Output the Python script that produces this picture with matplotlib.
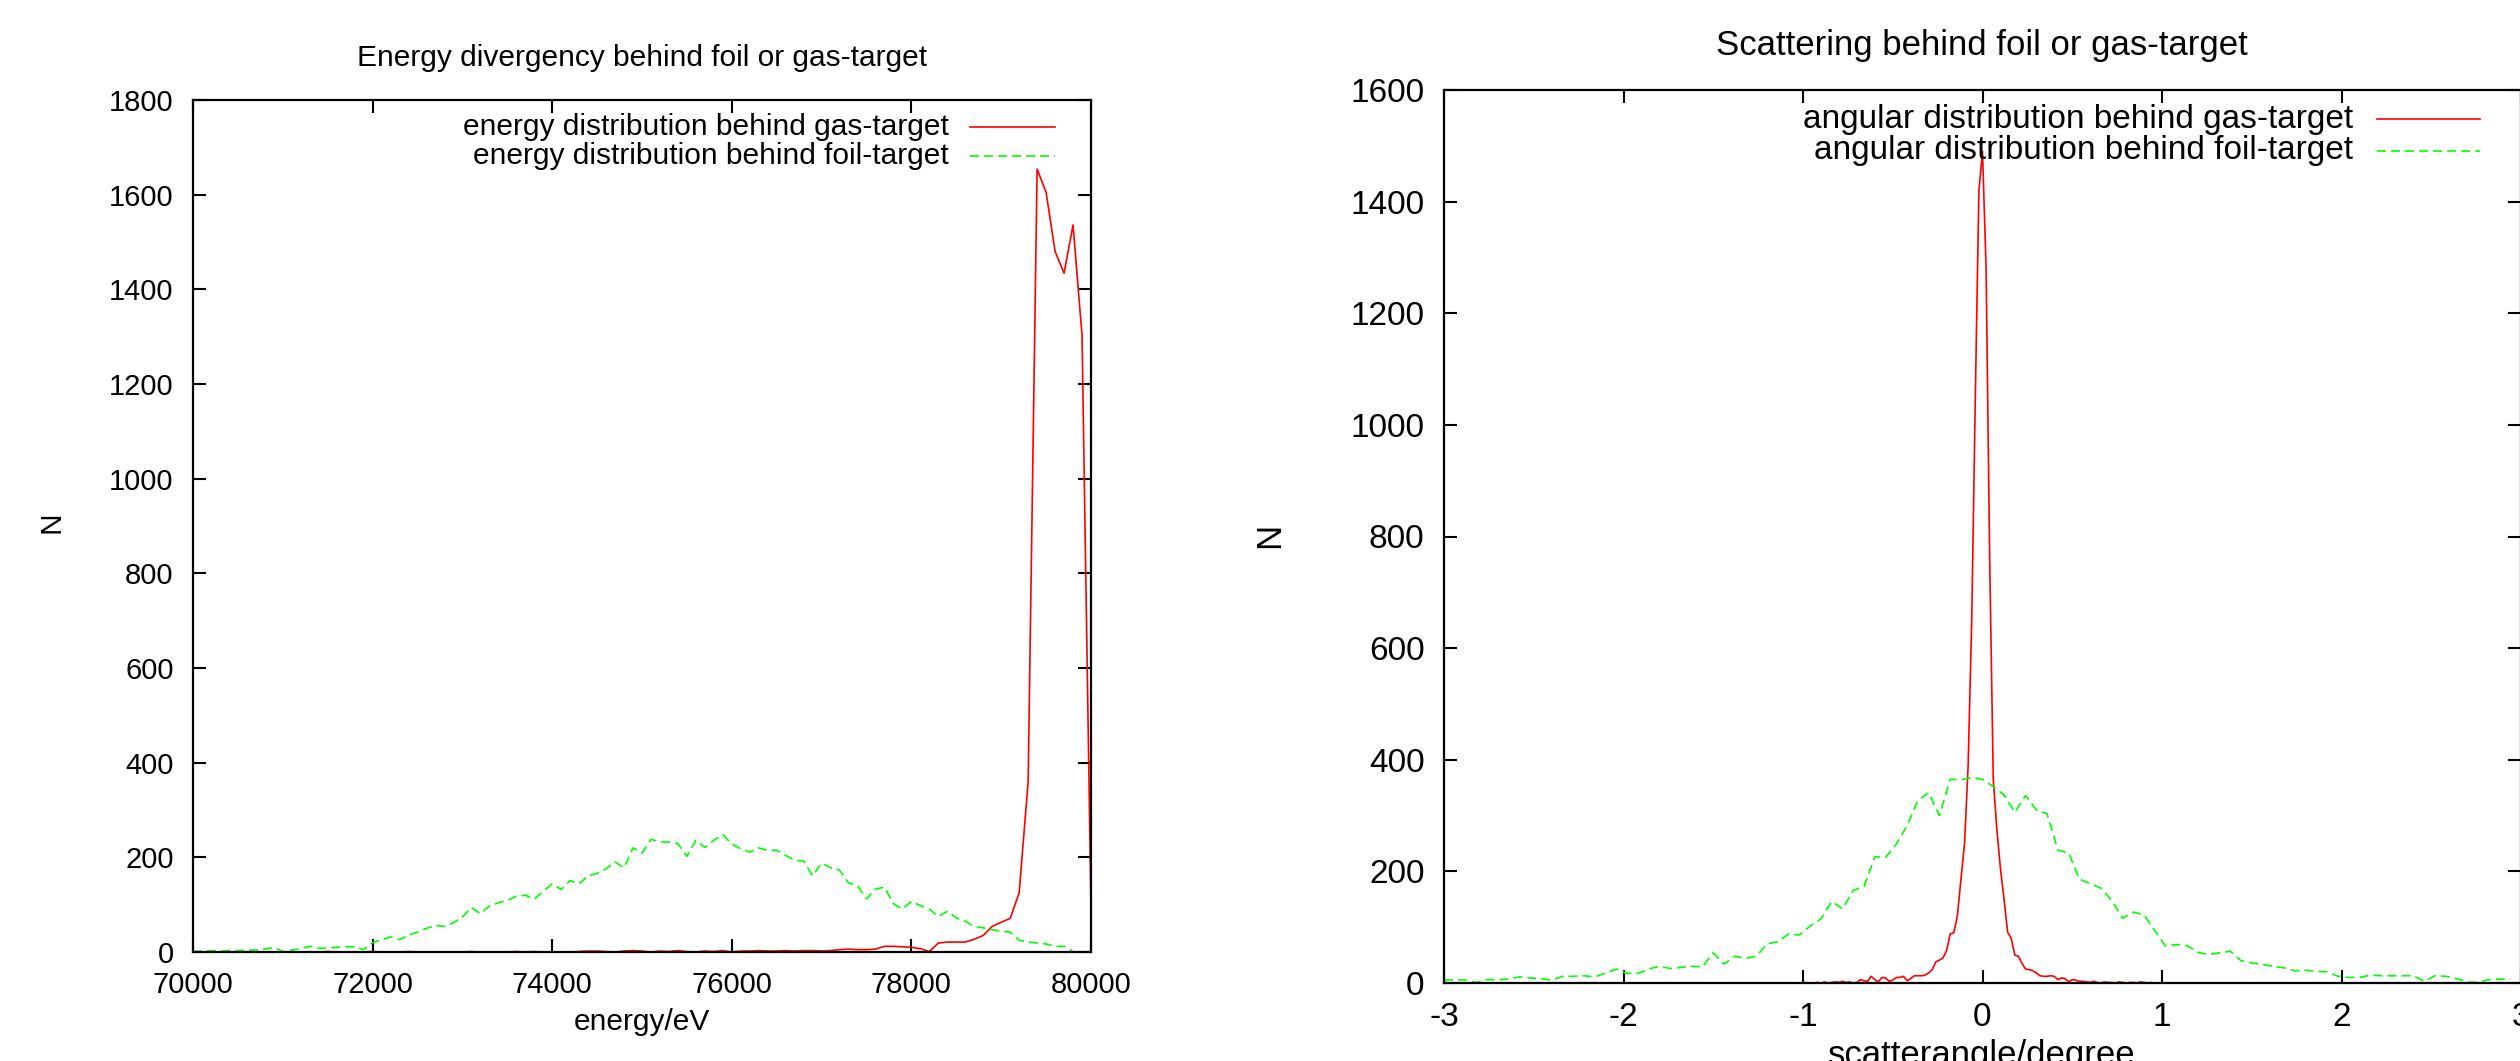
import numpy as np
import matplotlib
matplotlib.use("Agg")
import matplotlib.pyplot as plt

plt.rcParams['font.family'] = ['Liberation Sans', 'DejaVu Sans']
plt.rcParams['lines.scale_dashes'] = False
plt.rcParams['axes.unicode_minus'] = False

# energy spectrum, 100 eV bins
energy_gas = np.arange(70000, 80001, 100)
n_energy_gas = [
    0, 0, 0, 0, 0, 0, 0, 0, 0, 0,
    0, 0, 0, 0, 0, 1, 0, 0, 0, 0,
    1, 0, 0, 0, 1, 0, 0, 0, 0, 0,
    0, 1, 0, 0, 0, 0, 1, 0, 1, 0,
    0, 0, 0, 1, 2, 2, 1, 0, 2, 3,
    2, 0, 2, 1, 3, 1, 0, 2, 1, 3,
    0, 2, 2, 3, 2, 2, 3, 2, 3, 3,
    2, 3, 5, 6, 5, 5, 6, 12, 12, 11,
    10, 7, 1, 19, 21, 21, 21, 27, 35, 54,
    63, 71, 125, 360, 1654, 1605, 1480, 1434, 1536, 1303,
    93,
]
energy_foil = np.arange(70000, 79801, 100)
n_energy_foil = [
    1, 2, 3, 2, 3, 3, 4, 4, 6, 10,
    1, 4, 7, 12, 8, 8, 10, 11, 11, 5,
    20, 26, 32, 26, 36, 42, 50, 56, 54, 62,
    74, 94, 81, 97, 104, 109, 118, 120, 112, 128,
    144, 132, 151, 144, 161, 166, 176, 190, 178, 220,
    209, 238, 233, 232, 229, 202, 236, 221, 236, 248,
    228, 218, 211, 220, 215, 215, 204, 194, 192, 161,
    188, 178, 173, 146, 140, 112, 133, 137, 102, 91,
    107, 98, 91, 75, 86, 72, 65, 54, 51, 47,
    44, 42, 25, 21, 19, 17, 12, 12, 1,
]

# angular distribution
angle_gas = np.round(np.arange(-1.0, 1.001, 0.02), 2)
n_angle_gas = [
    0, 1, 0, 0, 1, 0, 2, 0, 1, 2,
    1, 3, 1, 2, 0, 1, 6, 4, 3, 12,
    6, 2, 10, 9, 3, 5, 10, 10, 12, 4,
    8, 13, 13, 13, 14, 18, 24, 38, 41, 45,
    58, 88, 90, 120, 186, 250, 390, 650, 1050, 1420,
    1490,
    1280, 760, 365, 275, 205, 150, 91, 80, 50, 48,
    35, 25, 24, 22, 18, 13, 12, 12, 13, 12,
    6, 9, 8, 2, 6, 5, 3, 3, 2, 1,
    3, 1, 0, 2, 1, 1, 0, 2, 1, 0,
    1, 1, 0, 2, 1, 0, 1, 0, 0, 0,
]
angle_foil = np.round(np.arange(-3.0, 2.95, 0.06), 2)
n_angle_foil = [
    5, 6, 5, 1, 6, 6, 7, 11, 9, 8,
    5, 12, 12, 13, 11, 18, 25, 17, 17, 25,
    30, 26, 28, 30, 29, 54, 34, 48, 44, 48,
    70, 74, 88, 86, 102, 115, 146, 133, 166, 173,
    226, 225, 249, 282, 327, 341, 300, 365, 364, 368,
    365, 352, 337, 306, 336, 310, 303, 238, 233, 186,
    178, 170, 148, 116, 127, 122, 94, 66, 69, 67,
    55, 51, 54, 57, 40, 36, 33, 30, 27, 22,
    23, 21, 20, 12, 10, 10, 14, 13, 13, 13,
    13, 3, 13, 12, 8, 2, 1, 6, 7, 7,
]

W, H = 2520, 1061
fig = plt.figure(figsize=(W / 100, H / 100), dpi=100)

RED = '#ff0000'
GREEN = '#00ff00'


def frame(ax, fs):
    for s in ax.spines.values():
        s.set_linewidth(1.6)
    ax.tick_params(direction='in', length=9.4, width=1.5, top=True, right=True,
                   labelsize=fs, pad=14)


def legend(ax, labels, tx, y1, y2, x0, x1, fs):
    for lab, y, c, ls in [(labels[0], y1, RED, '-'), (labels[1], y2, GREEN, '--')]:
        ax.text(tx, y, lab, transform=ax.transAxes, ha='right', va='center', fontsize=fs)
        ln, = ax.plot([x0, x1], [y, y], transform=ax.transAxes, color=c, lw=1.2, ls=ls,
                      clip_on=False)
        if ls == '--':
            ln.set_dashes((6.5, 3.6))


# left panel
ax1 = fig.add_axes([193 / W, 1 - 952 / H, 898 / W, 852 / H])
ax1.plot(energy_gas, n_energy_gas, color=RED, lw=1.2)
g, = ax1.plot(energy_foil, n_energy_foil, color=GREEN, lw=1.2)
g.set_dashes((6.5, 3.6))
ax1.set_xlim(70000, 80000)
ax1.set_ylim(0, 1800)
ax1.set_xticks(np.arange(70000, 80001, 2000))
ax1.set_yticks(np.arange(0, 1801, 200))
frame(ax1, 21)
legend(ax1, ['energy distribution behind gas-target', 'energy distribution behind foil-target'],
       0.842, 0.968, 0.934, 0.865, 0.960, 21.5)
fig.text((193 + 1091) / 2 / W, 1 - 58 / H, 'Energy divergency behind foil or gas-target',
         ha='center', va='center', fontsize=21.5)
fig.text((193 + 1091) / 2 / W, 1 - 1030 / H, 'energy/eV', ha='center', va='baseline', fontsize=21.5)
fig.text(51 / W, 1 - 522 / H, 'N', rotation=90, ha='center', va='center', fontsize=21.5)

# right panel
ax2 = fig.add_axes([1444 / W, 1 - 983 / H, 1077 / W, 893 / H])
ax2.plot(angle_gas, n_angle_gas, color=RED, lw=1.2)
g, = ax2.plot(angle_foil, n_angle_foil, color=GREEN, lw=1.2)
g.set_dashes((6.5, 3.6))
ax2.set_xlim(-3, 3)
ax2.set_ylim(0, 1600)
ax2.set_xticks(np.arange(-3, 4, 1))
ax2.set_yticks(np.arange(0, 1601, 200))
frame(ax2, 24)
legend(ax2, ['angular distribution behind gas-target', 'angular distribution behind foil-target'],
       0.844, 0.9675, 0.9317, 0.866, 0.962, 24)
fig.text(1982 / W, 1 - 45 / H, 'Scattering behind foil or gas-target',
         ha='center', va='center', fontsize=25)
fig.text(1982 / W, 1 - 1065 / H, 'scatterangle/degree', ha='center', va='baseline', fontsize=25)
fig.text(1270 / W, 1 - 535 / H, 'N', rotation=90, ha='center', va='center', fontsize=25)

fig.savefig('out.png', dpi=100)
